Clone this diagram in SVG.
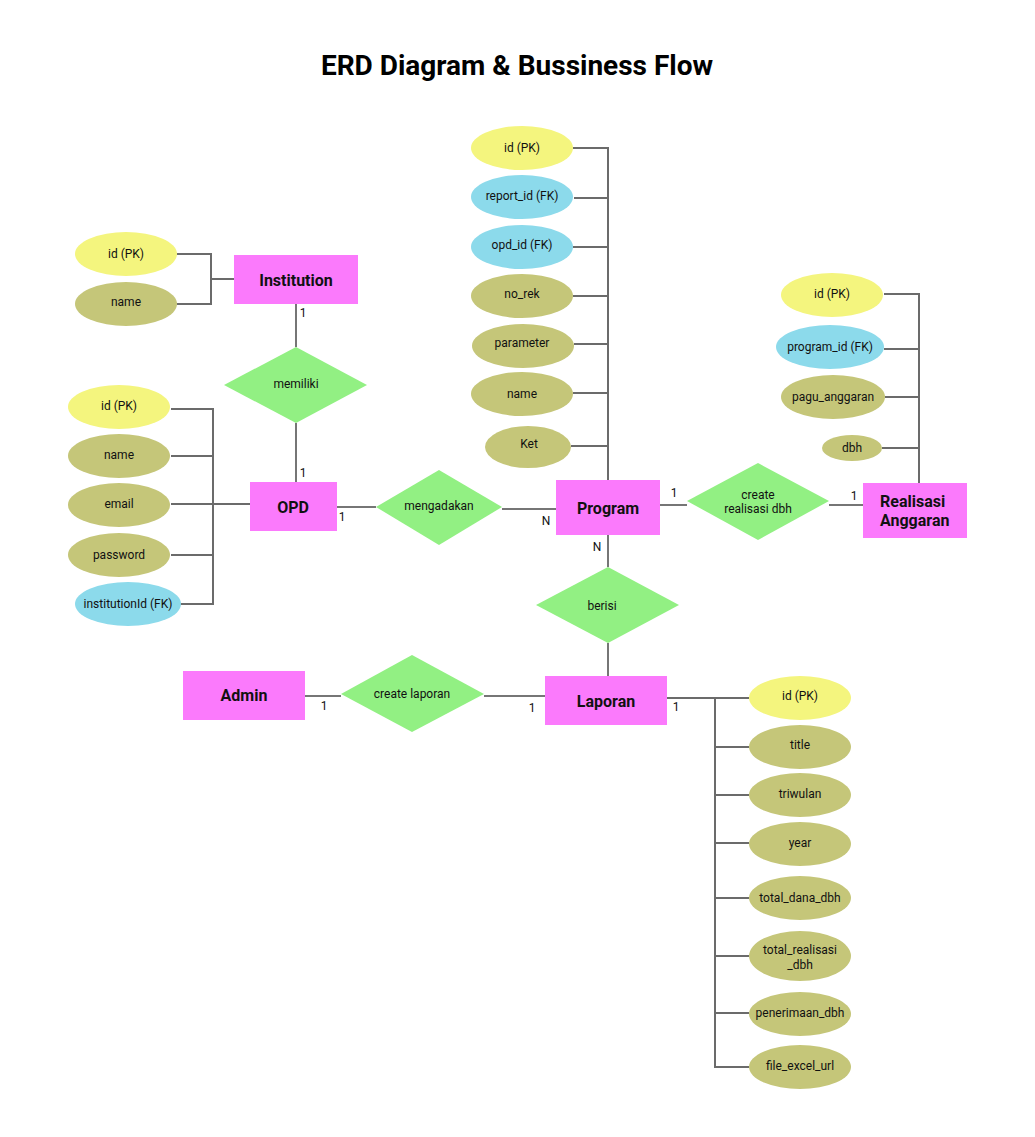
<svg xmlns="http://www.w3.org/2000/svg" width="1035" height="1137" viewBox="0 0 1035 1137">
<style>
text{font-family:Roboto,"Liberation Sans",sans-serif;fill:#111}
.title{font-size:28px;font-weight:bold;text-anchor:middle;fill:#000}
.ent{fill:#FB7AFC}
.et{font-size:16px;font-weight:bold;text-anchor:middle;dominant-baseline:central}
.rel{fill:#92F083}
.rt{font-size:12px;text-anchor:middle;dominant-baseline:central}
.pk{fill:#F4F57E}
.fk{fill:#8CDAEB}
.at{fill:#C5C679}
.att{font-size:12px;text-anchor:middle;dominant-baseline:central}
.card{font-size:12px;text-anchor:middle;dominant-baseline:central}
.al{fill:none;stroke:#6b6b6b;stroke-width:2}
.rl{fill:none;stroke:#4a4a4a;stroke-width:1.5}
</style>
<rect width="1035" height="1137" fill="#fff"/>
<text class="title" x="517" y="75">ERD Diagram &amp; Bussiness Flow</text>

<g id="connectors">
<path class="al" d="M177 254H211V304H177M211 279H234"/>
<path class="al" d="M171 409H213V604H180M171 456H213M171 504H250M171 555H213"/>
<path class="al" d="M573 148H608V480M574 198H608M573 247H608M573 296H608M574 344H608M573 393H608M571 446H608"/>
<path class="al" d="M884 294H919V483M884 349H919M885 397H919M882 448H919"/>
<path class="al" d="M667 698H749M715 698V1067H749M715 747H749M715 795H749M715 843H749M715 898H749M715 956H749M715 1013H749"/>
<path class="rl" d="M296 304V347M296 423V482"/>
<path class="rl" d="M337 507H376M502 509H556"/>
<path class="rl" d="M660 505H687M829 505H863"/>
<path class="rl" d="M608 535V567M608 643V676"/>
<path class="rl" d="M305 696H341M484 696H545"/>
</g>

<g id="institution">
<rect class="ent" x="234" y="255" width="124" height="49"/>
<text class="et" x="296" y="280">Institution</text>
</g>
<g id="institution-attrs">
<ellipse class="pk" cx="126" cy="254" rx="51" ry="22"/><text class="att" x="126" y="254">id (PK)</text>
<ellipse class="at" cx="126" cy="304" rx="51" ry="22"/><text class="att" x="126" y="302">name</text>
</g>

<g id="memiliki">
<polygon class="rel" points="224,385 296,347 367,385 296,423"/>
<text class="rt" x="296" y="384">memiliki</text>
</g>

<g id="opd">
<rect class="ent" x="250" y="482" width="87" height="49"/>
<text class="et" x="293" y="507">OPD</text>
</g>
<g id="opd-attrs">
<ellipse class="pk" cx="119" cy="407" rx="51" ry="22"/><text class="att" x="119" y="406">id (PK)</text>
<ellipse class="at" cx="119" cy="456" rx="51" ry="22"/><text class="att" x="119" y="455">name</text>
<ellipse class="at" cx="119" cy="505" rx="51" ry="22"/><text class="att" x="119" y="504">email</text>
<ellipse class="at" cx="119" cy="555" rx="51" ry="22"/><text class="att" x="119" y="555">password</text>
<ellipse class="fk" cx="128" cy="604" rx="53" ry="22"/><text class="att" x="128" y="604">institutionId (FK)</text>
</g>

<g id="mengadakan">
<polygon class="rel" points="376,507 439,470 502,507 439,545"/>
<text class="rt" x="439" y="506">mengadakan</text>
</g>

<g id="program">
<rect class="ent" x="556" y="480" width="104" height="55"/>
<text class="et" x="608" y="508">Program</text>
</g>
<g id="program-attrs">
<ellipse class="pk" cx="522" cy="148" rx="51" ry="22"/><text class="att" x="522" y="148">id (PK)</text>
<ellipse class="fk" cx="522" cy="197" rx="51" ry="22"/><text class="att" x="522" y="196">report_id (FK)</text>
<ellipse class="fk" cx="522" cy="247" rx="51" ry="22"/><text class="att" x="522" y="245">opd_id (FK)</text>
<ellipse class="at" cx="522" cy="296" rx="51" ry="22"/><text class="att" x="522" y="294">no_rek</text>
<ellipse class="at" cx="523" cy="346" rx="51" ry="22"/><text class="att" x="522" y="343">parameter</text>
<ellipse class="at" cx="522" cy="394" rx="51" ry="22"/><text class="att" x="522" y="394">name</text>
<ellipse class="at" cx="528" cy="447" rx="43" ry="21"/><text class="att" x="529" y="444">Ket</text>
</g>

<g id="create-realisasi">
<polygon class="rel" points="687,501 758,463 829,501 758,540"/>
<text class="rt" x="758" y="495">create</text>
<text class="rt" x="758" y="509">realisasi dbh</text>
</g>

<g id="realisasi-anggaran">
<rect class="ent" x="863" y="483" width="104" height="55"/>
<text x="880" y="507" style="font-size:16px;font-weight:bold">Realisasi</text>
<text x="880" y="526" style="font-size:16px;font-weight:bold">Anggaran</text>
</g>
<g id="realisasi-attrs">
<ellipse class="pk" cx="832" cy="295" rx="51" ry="22"/><text class="att" x="832" y="294">id (PK)</text>
<ellipse class="fk" cx="830" cy="347" rx="54" ry="22"/><text class="att" x="830" y="347">program_id (FK)</text>
<ellipse class="at" cx="833" cy="397" rx="52" ry="22"/><text class="att" x="833" y="397">pagu_anggaran</text>
<ellipse class="at" cx="852" cy="448" rx="30" ry="13"/><text class="att" x="852" y="448">dbh</text>
</g>

<g id="berisi">
<polygon class="rel" points="536,605 608,567 679,605 608,643"/>
<text class="rt" x="602" y="606">berisi</text>
</g>

<g id="laporan">
<rect class="ent" x="545" y="676" width="122" height="49"/>
<text class="et" x="606" y="701">Laporan</text>
</g>
<g id="laporan-attrs">
<ellipse class="pk" cx="800" cy="698" rx="51" ry="22"/><text class="att" x="800" y="696">id (PK)</text>
<ellipse class="at" cx="800" cy="747" rx="51" ry="22"/><text class="att" x="800" y="745">title</text>
<ellipse class="at" cx="800" cy="795" rx="51" ry="22"/><text class="att" x="800" y="794">triwulan</text>
<ellipse class="at" cx="800" cy="844" rx="51" ry="22"/><text class="att" x="800" y="843">year</text>
<ellipse class="at" cx="800" cy="898" rx="51" ry="22"/><text class="att" x="800" y="898">total_dana_dbh</text>
<ellipse class="at" cx="800" cy="956" rx="51" ry="25"/><text class="att" x="800" y="950">total_realisasi</text><text class="att" x="800" y="965">_dbh</text>
<ellipse class="at" cx="800" cy="1014" rx="51" ry="22"/><text class="att" x="800" y="1013">penerimaan_dbh</text>
<ellipse class="at" cx="800" cy="1067" rx="51" ry="22"/><text class="att" x="800" y="1066">file_excel_url</text>
</g>

<g id="admin">
<rect class="ent" x="183" y="671" width="122" height="49"/>
<text class="et" x="244" y="695">Admin</text>
</g>

<g id="create-laporan">
<polygon class="rel" points="341,694 412,655 484,694 412,732"/>
<text class="rt" x="412" y="694">create laporan</text>
</g>

<g id="cardinalities">
<text class="card" x="303" y="313">1</text>
<text class="card" x="303" y="473">1</text>
<text class="card" x="342" y="517">1</text>
<text class="card" x="546" y="521">N</text>
<text class="card" x="674" y="493">1</text>
<text class="card" x="854" y="496">1</text>
<text class="card" x="597" y="547">N</text>
<text class="card" x="324" y="706">1</text>
<text class="card" x="532" y="708">1</text>
<text class="card" x="676" y="707">1</text>
</g>
</svg>
